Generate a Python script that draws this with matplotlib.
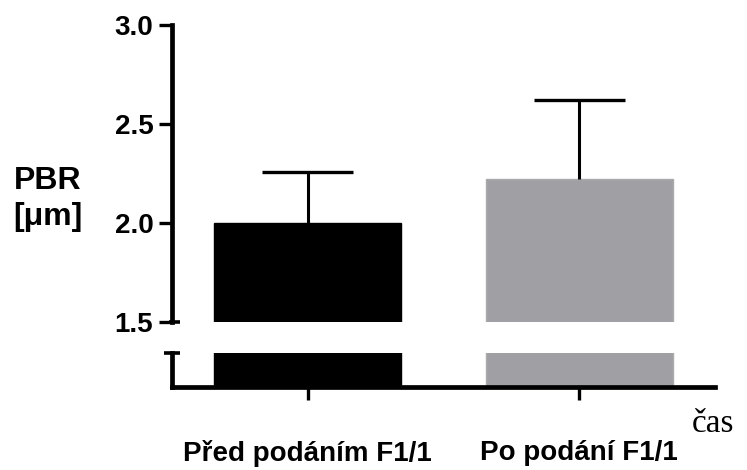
import matplotlib.pyplot as plt

# values
groups = ['Před podáním F1/1', 'Po podání F1/1']
means = [2.00, 2.22]
sem = [0.26, 0.40]
bar_colors = ['#000000', '#a0a0a4']
edge_colors = ['#000000', '#ababae']
y_ticks = [1.5, 2.0, 2.5, 3.0]

plt.rcParams['font.family'] = ['Liberation Sans', 'DejaVu Sans']

fig = plt.figure(figsize=(7.47, 4.70), dpi=100)

# top part of the broken axis (1.5 - 3.0)
ax_top = fig.add_axes([0.2303, 0.3149, 0.7269, 0.6319])
# bottom stub of the broken axis
ax_bot = fig.add_axes([0.2303, 0.1766, 0.7269, 0.0723])

x = list(range(len(groups)))
for ax in (ax_top, ax_bot):
    ax.bar(x, means, width=0.69, color=bar_colors, edgecolor=edge_colors,
           linewidth=1, zorder=1)
    ax.set_xlim(-0.5, 1.5)
    for side in ['top', 'right']:
        ax.spines[side].set_visible(False)
    ax.spines['left'].set_linewidth(3.4)
    ax.spines['bottom'].set_linewidth(3.4)
    ax.tick_params(width=2.4, length=9.5, color='black')

# upper-only error bars (SEM)
tops = [m + s for m, s in zip(means, sem)]
cap = 0.168
ax_top.vlines(x, means, tops, color='black', lw=2.2, zorder=3)
ax_top.hlines(tops, [i - cap for i in x], [i + cap for i in x],
              color='black', lw=2.4, zorder=3)

ax_top.set_ylim(1.5, 3.0)
ax_top.set_yticks(y_ticks)
ax_top.set_yticklabels([f'{t:.1f}' for t in y_ticks], fontsize=20,
                       fontweight='bold')
ax_top.tick_params(axis='y', pad=4)
ax_top.spines['bottom'].set_visible(False)
ax_top.set_xticks([])
# break mark at the bottom of the upper axis
ax_top.plot([-0.005, 0.015], [1.5, 1.5], transform=ax_top.get_yaxis_transform(),
            color='black', lw=2.6, clip_on=False, solid_capstyle='butt')

ax_bot.set_ylim(0, 1)
ax_bot.set_yticks([])
ax_bot.set_xticks(x)
ax_bot.set_xticklabels(groups, fontsize=20, fontweight='bold')
ax_bot.tick_params(axis='x', pad=29)
# break mark at the top of the lower axis
ax_bot.plot([-0.015, 0.015], [1, 1], transform=ax_bot.transAxes,
            color='black', lw=2.6, clip_on=False, solid_capstyle='butt')

fig.text(48 / 747, 1 - 199 / 470, 'PBR\n[μm]', ha='center', va='center',
         fontsize=23, fontweight='bold', linespacing=1.3)
fig.text(692 / 747, 1 - 432 / 470, 'čas', ha='left', va='baseline',
         fontsize=24, family='Liberation Serif')

fig.savefig('out.png', dpi=100)
